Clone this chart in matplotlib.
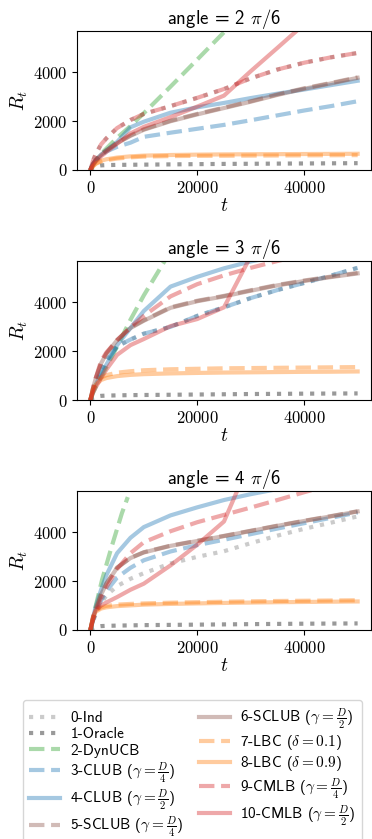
import numpy as np
import matplotlib
matplotlib.use("Agg")
import matplotlib.pyplot as plt

plt.rcParams['font.family'] = 'serif'
plt.rcParams['font.serif'] = ['cmr10']
plt.rcParams['mathtext.fontset'] = 'cm'
plt.rcParams['axes.formatter.use_mathtext'] = True

# time grid shared by most curves
t = [0, 500, 1000, 2000, 3000, 5000, 7500, 10000, 15000, 20000, 25000, 30000, 35000, 40000, 45000, 50000]

labels = ["0-Ind", "1-Oracle", "2-DynUCB",
          r"3-CLUB ($\gamma=\frac{D}{4}$)", r"4-CLUB ($\gamma=\frac{D}{2}$)",
          r"5-SCLUB ($\gamma=\frac{D}{4}$)", r"6-SCLUB ($\gamma=\frac{D}{2}$)",
          r"7-LBC ($\delta=0.1$)", r"8-LBC ($\delta=0.9$)",
          r"9-CMLB ($\gamma=\frac{D}{4}$)", r"10-CMLB ($\gamma=\frac{D}{2}$)"]
colors = ['tab:gray', 'black', 'tab:green', 'tab:blue', 'tab:blue', 'tab:brown', 'tab:brown',
          'tab:orange', 'tab:orange', 'tab:red', 'tab:red']
styles = [':', ':', '--', '--', '-', '--', '-', '--', '-', '--', '-']

angles = [2, 3, 4]

# angle = 2 pi/6
p1_ind    = [0, 380, 650, 1050, 1300, 1720, 2050, 2300, 2620, 2960, 3320, 3760, 4120, 4400, 4620, 4800]
p1_oracle = [0, 100, 150, 190, 200, 210, 215, 220, 230, 240, 250, 255, 262, 268, 274, 280]
p1_dyn    = [0, 200, 370, 650, 880, 1320, 1800, 2330, 3420, 4530, 5650, 6800, 7950, 9100, 10250, 11400]
p1_club4  = [0, 250, 400, 600, 760, 950, 1120, 1360, 1530, 1690, 1850, 2040, 2240, 2440, 2620, 2820]
p1_club2  = [0, 250, 400, 620, 800, 1150, 1750, 1980, 2350, 2570, 2750, 2950, 3130, 3300, 3480, 3660]
p1_sclub4 = [0, 260, 410, 630, 810, 1110, 1420, 1670, 2020, 2300, 2560, 2820, 3100, 3350, 3570, 3800]
p1_sclub2 = [0, 250, 400, 620, 800, 1100, 1400, 1650, 2000, 2280, 2540, 2800, 3080, 3330, 3550, 3780]
p1_lbc1   = [0, 150, 250, 350, 400, 470, 520, 550, 570, 580, 585, 590, 595, 600, 605, 610]
p1_lbc9   = [0, 160, 270, 380, 440, 510, 560, 590, 615, 630, 640, 645, 650, 655, 660, 665]
p1_cmlb4  = [0, 380, 650, 1050, 1300, 1720, 2050, 2300, 2620, 2960, 3320, 3760, 4120, 4400, 4620, 4800]
p1_cmlb2  = [0, 200, 350, 560, 740, 1080, 1500, 1770, 2170, 2600, 3050, 4050, 5010, 5980, 6950, 7920]

# angle = 3 pi/6
p2_ind    = [0, 400, 700, 1200, 1600, 2200, 2480, 2720, 3000, 3450, 3800, 4180, 4510, 4800, 5100, 5420]
p2_oracle = [0, 90, 140, 170, 180, 190, 200, 205, 215, 225, 235, 245, 252, 260, 265, 270]
p2_dyn    = [0, 300, 530, 950, 1350, 2190, 3290, 4290, 6100, 7900, 9700, 11500, 13300, 15100, 16900, 18700]
p2_club4  = [0, 400, 700, 1200, 1600, 2200, 2480, 2720, 3000, 3450, 3800, 4180, 4510, 4800, 5100, 5420]
p2_club2  = [0, 350, 620, 1050, 1450, 2250, 2950, 3650, 4650, 5050, 5400, 5680, 5900, 6100, 6280, 6450]
p2_sclub4 = [0, 490, 890, 1510, 1910, 2460, 2970, 3270, 3800, 4070, 4270, 4500, 4720, 4900, 5060, 5210]
p2_sclub2 = [0, 480, 880, 1500, 1900, 2450, 2950, 3250, 3780, 4050, 4250, 4480, 4700, 4880, 5040, 5190]
p2_lbc1   = [0, 420, 680, 920, 1020, 1120, 1180, 1220, 1260, 1280, 1300, 1310, 1320, 1330, 1340, 1350]
p2_lbc9   = [0, 400, 620, 820, 900, 980, 1030, 1060, 1090, 1110, 1125, 1135, 1145, 1155, 1160, 1170]
p2_cmlb4  = [0, 480, 900, 1600, 1950, 2450, 2980, 3450, 4250, 4750, 5110, 5420, 5700, 5950, 6170, 6380]
p2_cmlb2  = [0, 300, 520, 900, 1250, 1850, 2250, 2500, 3030, 3320, 3800, 5900, 8100, 10300, 12500, 14700]

# angle = 4 pi/6
p3_ind    = [0, 350, 650, 1100, 1420, 1800, 2100, 2330, 2730, 3000, 3230, 3560, 3870, 4150, 4400, 4660]
p3_oracle = [0, 80, 130, 160, 170, 180, 190, 200, 210, 220, 230, 240, 250, 258, 264, 270]
p3_dyn_t  = [0, 1000, 2200, 4000, 5900, 7000]
p3_dyn    = [0, 980, 2070, 3430, 4790, 5450]
p3_club4  = [0, 400, 700, 1200, 1600, 2150, 2550, 2860, 3220, 3480, 3700, 3930, 4160, 4380, 4600, 4820]
p3_club2  = [0, 500, 950, 1650, 2250, 3150, 3780, 4220, 4700, 5030, 5330, 5570, 5780, 5960, 6120, 6270]
p3_sclub4 = [0, 460, 860, 1460, 1910, 2560, 2960, 3190, 3460, 3660, 3860, 4070, 4280, 4480, 4670, 4870]
p3_sclub2 = [0, 450, 850, 1450, 1900, 2550, 2950, 3180, 3450, 3650, 3850, 4060, 4270, 4470, 4660, 4860]
p3_lbc1   = [0, 520, 790, 930, 990, 1040, 1070, 1090, 1120, 1140, 1160, 1175, 1190, 1200, 1210, 1220]
p3_lbc9   = [0, 500, 750, 880, 930, 980, 1010, 1040, 1070, 1090, 1110, 1125, 1140, 1150, 1160, 1170]
p3_cmlb4  = [0, 400, 750, 1300, 1750, 2500, 3150, 3600, 4050, 4420, 4720, 5020, 5330, 5650, 5950, 6250]
p3_cmlb2  = [0, 550, 800, 1000, 1130, 1350, 1650, 1900, 2650, 3500, 4450, 7000, 9500, 12000, 14500, 17000]

panels = [
    [(t, p1_ind), (t, p1_oracle), (t, p1_dyn), (t, p1_club4), (t, p1_club2), (t, p1_sclub4),
     (t, p1_sclub2), (t, p1_lbc1), (t, p1_lbc9), (t, p1_cmlb4), (t, p1_cmlb2)],
    [(t, p2_ind), (t, p2_oracle), (t, p2_dyn), (t, p2_club4), (t, p2_club2), (t, p2_sclub4),
     (t, p2_sclub2), (t, p2_lbc1), (t, p2_lbc9), (t, p2_cmlb4), (t, p2_cmlb2)],
    [(t, p3_ind), (t, p3_oracle), (p3_dyn_t, p3_dyn), (t, p3_club4), (t, p3_club2), (t, p3_sclub4),
     (t, p3_sclub2), (t, p3_lbc1), (t, p3_lbc9), (t, p3_cmlb4), (t, p3_cmlb2)],
]

W, H = 372, 839
fig = plt.figure(figsize=(W / 100, H / 100), dpi=100)
tops = [31, 261, 491]
for k, series in enumerate(panels):
    ax = fig.add_axes([77 / W, 1 - (tops[k] + 139) / H, 294 / W, 139 / H])
    for i, (x, y) in enumerate(series):
        ax.plot(x, y, linestyle=styles[i], color=colors[i], alpha=0.4, lw=3, label=labels[i])
    ax.set_xlim(-2500, 52500)
    ax.set_ylim(0, 5700)
    ax.set_xticks([0, 20000, 40000])
    ax.set_yticks([0, 2000, 4000])
    ax.tick_params(labelsize=12)
    ax.set_xlabel(r"$t$", fontsize=14, labelpad=1)
    ax.set_ylabel(r"$R_t$", fontsize=14, labelpad=2)
    ax.set_title("angle = %d $\\pi$/6" % angles[k], family='cmss10', fontsize=13.5, pad=5)
    if k == 0:
        handles, labs = ax.get_legend_handles_labels()

# legend runs past the bottom edge, as in the original
leg = fig.legend(handles, labs, loc='upper left', bbox_to_anchor=(23 / W, 1 - 700 / H),
                 borderaxespad=0, ncol=2, prop={'family': 'cmss10', 'size': 11},
                 handlelength=2.0, handletextpad=0.7, columnspacing=1.0, labelspacing=0.15)

fig.savefig("out.png", dpi=100)
